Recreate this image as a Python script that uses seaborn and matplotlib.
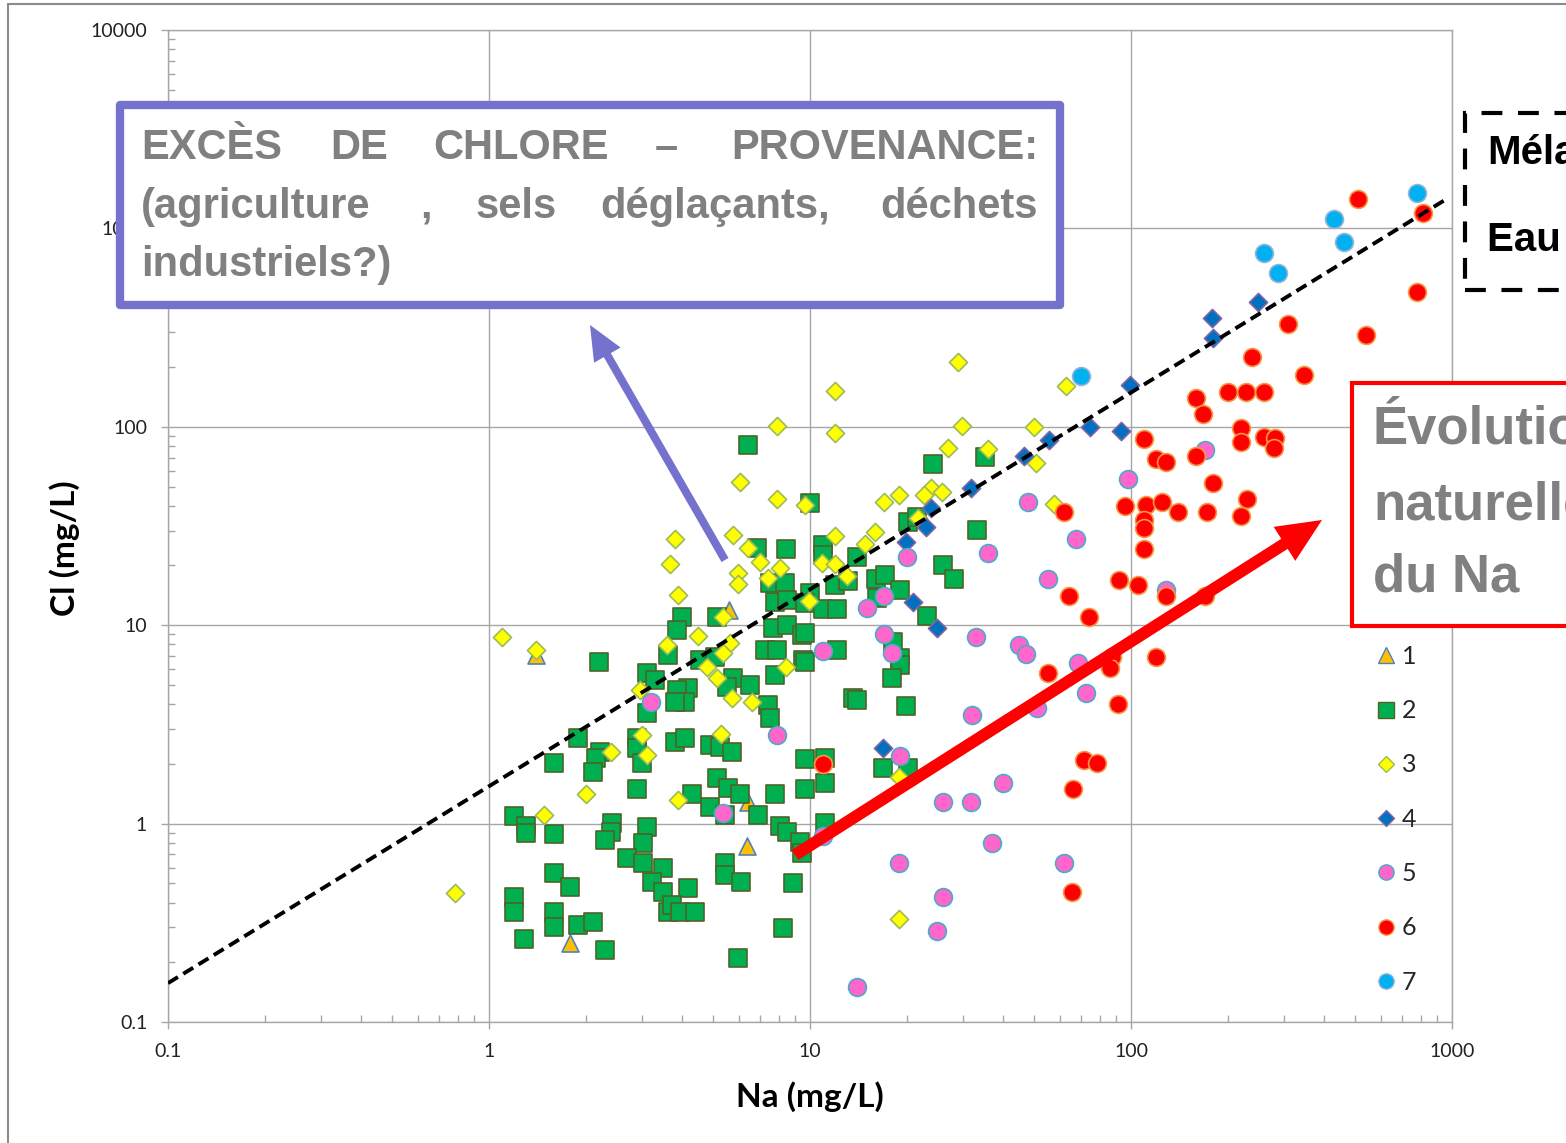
import numpy as np
import pandas as pd
import matplotlib
matplotlib.use("Agg")
import matplotlib.pyplot as plt
import seaborn as sns
from matplotlib.patches import Rectangle, FancyArrowPatch
from matplotlib.lines import Line2D
from matplotlib.ticker import LogLocator, FuncFormatter, NullFormatter

# ---------------- data (mg/L) ----------------
s1_na = [1.40, 1.79, 5.59, 6.41, 6.36]
s1_cl = [7.08, 0.250, 11.9, 1.28, 0.771]

s2_na = [6.41, 10.0, 8.42, 6.84, 11.0, 11.0, 14.0, 7.50, 8.36, 7.78, 8.48, 10.0, 9.65, 11.0, 12.1,
         12.0, 13.1, 3.99, 5.13, 3.85, 7.67, 8.48, 9.44, 3.61, 7.24, 7.89, 9.51, 12.1, 4.54, 5.06,
         3.11, 3.29, 4.17, 3.85, 5.75, 6.50, 7.78, 5.51, 7.40, 4.08, 3.80, 13.6, 7.50, 24.2, 35.1,
         20.2, 21.5, 33.1, 16.1, 17.1, 19.1, 16.2, 26.0, 28.1, 23.2, 9.65, 18.1, 19.1, 9.65, 19.1,
         18.0, 14.0, 19.9, 9.65, 11.1, 11.1, 9.65, 11.1, 16.9, 20.2, 8.85,
         2.20, 3.11, 1.89, 2.22, 2.16, 2.11, 1.59, 2.89, 2.89, 3.00, 2.89, 3.80, 4.08, 4.88, 5.24,
         5.71, 1.20, 1.30, 1.30, 1.59, 2.42, 2.40, 2.30, 3.11, 3.02, 2.69, 3.02, 3.48, 3.22, 3.48,
         4.17, 3.61, 3.72, 3.94, 4.38, 1.59, 1.79, 1.20, 1.20, 1.59, 1.59, 1.89, 2.11, 1.29, 2.30,
         5.13, 5.55, 4.29, 6.05, 7.78, 4.88, 5.43, 6.89, 8.07, 8.48, 9.31, 9.44, 5.43, 5.43, 6.10,
         8.24, 5.97]
s2_cl = [81.0, 41.3, 24.2, 24.5, 25.4, 22.6, 22.1, 16.3, 16.3, 13.1, 13.4, 14.5, 12.9, 12.1, 12.1,
         15.9, 16.7, 11.0, 11.0, 9.46, 9.68, 10.0, 8.93, 7.08, 7.50, 7.50, 6.68, 7.50, 6.68, 6.92,
         5.74, 5.29, 4.82, 4.71, 5.42, 5.00, 5.61, 4.88, 3.96, 4.10, 4.10, 4.30, 3.41, 65.0, 70.4,
         33.1, 35.1, 30.2, 17.1, 17.9, 15.0, 13.7, 20.1, 17.1, 11.1, 9.14, 8.23, 6.83, 6.53, 6.30,
         5.42, 4.20, 3.92, 2.12, 2.14, 1.60, 1.49, 1.01, 1.91, 1.91, 0.502,
         6.53, 3.60, 2.70, 2.30, 2.14, 1.82, 2.02, 2.70, 2.40, 2.02, 1.49, 2.58, 2.70, 2.49, 2.43,
         2.30, 1.09, 0.973, 0.897, 0.887, 1.01, 0.907, 0.827, 0.962, 0.798, 0.671, 0.633, 0.598, 0.508, 0.452,
         0.473, 0.358, 0.389, 0.358, 0.358, 0.563, 0.479, 0.427, 0.358, 0.358, 0.301, 0.308, 0.319, 0.262, 0.231,
         1.70, 1.51, 1.41, 1.41, 1.41, 1.21, 1.10, 1.10, 0.973, 0.907, 0.808, 0.711, 0.633, 0.551, 0.508,
         0.298, 0.210]

s3_na = [28.9, 12.0, 7.89, 12.0, 29.8, 49.9, 62.8, 26.9, 35.9, 50.6, 57.5, 23.8, 22.6, 25.8, 18.9,
         17.0, 15.9, 12.0, 14.8, 21.7, 10.9, 12.0, 13.0, 9.93, 9.65, 6.05, 7.89, 5.75, 3.80, 6.41,
         6.98, 8.07, 7.40, 5.97, 5.97, 3.66, 3.88, 5.36, 4.48, 3.59, 5.63, 5.36, 4.78, 5.13, 8.42,
         5.71, 6.60, 2.95, 1.10, 1.40, 3.00, 2.40, 3.11, 2.00, 1.48, 0.784, 3.88, 5.28, 18.9, 18.9]
s3_cl = [212, 151, 101, 93.1, 101, 99.8, 161, 78.2, 77.3, 65.7, 40.8, 49.2, 45.3, 46.9, 45.3,
         41.8, 29.5, 28.2, 25.7, 34.7, 20.6, 20.3, 17.7, 13.2, 40.4, 52.7, 43.3, 28.5, 27.2, 24.5,
         20.8, 19.4, 17.3, 18.3, 16.1, 20.3, 14.2, 11.0, 8.82, 7.94, 8.13, 7.24, 6.16, 5.42, 6.16,
         4.30, 4.10, 4.71, 8.72, 7.50, 2.80, 2.30, 2.22, 1.41, 1.10, 0.447, 1.32, 2.83, 1.72, 0.330]

s4_na = [249, 179, 180, 99.3, 74.5, 93.1, 55.5, 46.4, 31.7, 23.8, 23.0, 19.9, 20.9, 24.9, 16.9]
s4_cl = [426, 353, 280, 162, 99.8, 95.2, 85.8, 71.3, 49.2, 39.0, 31.3, 26.3, 13.1, 9.68, 2.40]

s5_na = [47.8, 67.4, 35.9, 20.0, 17.0, 15.1, 55.1, 17.0, 32.9, 44.8, 47.1, 11.0, 18.0, 68.4, 72.4,
         51.0, 32.0, 19.1, 39.9, 26.0, 31.7, 11.0, 36.9, 18.9, 61.8, 26.0, 24.9, 14.0, 3.20, 7.89,
         5.36, 170, 97.9, 129]
s5_cl = [41.8, 27.2, 23.1, 22.1, 14.0, 12.2, 17.1, 9.03, 8.72, 7.94, 7.16, 7.41, 7.24, 6.45, 4.55,
         3.83, 3.53, 2.19, 1.60, 1.28, 1.28, 0.866, 0.798, 0.633, 0.633, 0.427, 0.288, 0.150, 4.10, 2.80,
         1.13, 76.4, 54.6, 15.0]

s6_na = [509, 812, 778, 308, 540, 238, 346, 159, 200, 228, 260, 168, 220, 220, 260, 281, 279, 110,
         120, 129, 159, 180, 230, 220, 95.7, 111, 125, 140, 173, 110, 110, 110, 91.8, 105, 129, 170,
         74.0, 87.3, 86.0, 120, 91.1, 71.4, 78.3, 65.9, 65.5, 61.8, 64.1, 55.1, 11.0]
s6_cl = [1407, 1196, 478, 330, 290, 225, 182, 140, 150, 150, 150, 116, 98.6, 83.8, 88.8, 87.9, 78.2, 86.8,
         68.8, 66.5, 71.3, 52.1, 43.3, 35.5, 39.9, 40.4, 41.8, 37.2, 37.2, 33.9, 30.9, 24.2, 16.9, 15.9, 14.0, 14.0,
         11.0, 6.92, 6.09, 6.92, 4.01, 2.09, 2.02, 1.49, 0.452, 37.2, 14.0, 5.74, 2.0]

s7_na = [778, 429, 461, 260, 287, 69.8]
s7_cl = [1507, 1115, 854, 751, 596, 180]

line_na = [0.1, 950]
line_cl = [0.157, 1390]

series_labels = ["1", "2", "3", "4", "5", "6", "7"]
x_ticks = [0.1, 1, 10, 100, 1000]
y_ticks = [0.1, 1, 10, 100, 1000, 10000]

# ---------------- styles ----------------
styles = {
    "1": dict(marker="^", s=150, fc="#FFC000", ec="#4F81BD"),
    "2": dict(marker="s", s=150, fc="#00B050", ec="#4F6228"),
    "3": dict(marker="D", s=85, fc="#FFFF00", ec="#9BBB59"),
    "4": dict(marker="D", s=85, fc="#0070C0", ec="#8064A2"),
    "5": dict(marker="o", s=165, fc="#FF66CC", ec="#4BACC6"),
    "6": dict(marker="o", s=165, fc="#FF0000", ec="#F79646"),
    "7": dict(marker="o", s=165, fc="#00B0F0", ec="#95B3D7"),
}
all_na = [s1_na, s2_na, s3_na, s4_na, s5_na, s6_na, s7_na]
all_cl = [s1_cl, s2_cl, s3_cl, s4_cl, s5_cl, s6_cl, s7_cl]
df = pd.concat([pd.DataFrame({"Na": n, "Cl": c, "serie": lab})
                for n, c, lab in zip(all_na, all_cl, series_labels)], ignore_index=True)

sns.set_theme(style="white")
plt.rcParams["font.family"] = ["Lato", "DejaVu Sans"]

W, H = 1566, 1143
fig = plt.figure(figsize=(W / 100, H / 100), dpi=100)
ax = fig.add_axes([168 / W, 1 - 1022 / H, (1452 - 168) / W, (1022 - 30) / H])

for i, lab in enumerate(series_labels):
    st = styles[lab]
    sns.scatterplot(data=df[df["serie"] == lab], x="Na", y="Cl", marker=st["marker"], s=st["s"],
                    color=st["fc"], edgecolor=st["ec"], linewidth=1.2, ax=ax, legend=False,
                    zorder=3 + i)

sns.lineplot(x=line_na, y=line_cl, ax=ax, color="black", lw=2.8, linestyle=(0, (3, 1.6)),
             zorder=20, legend=False, estimator=None, sort=False)

ax.set_xscale("log")
ax.set_yscale("log")
ax.set_xlim(0.1, 1000)
ax.set_ylim(0.1, 10000)
ax.xaxis.set_major_locator(LogLocator(base=10, numticks=10))
ax.yaxis.set_major_locator(LogLocator(base=10, numticks=10))
ax.xaxis.set_minor_locator(LogLocator(base=10, subs=np.arange(2, 10), numticks=20))
ax.yaxis.set_minor_locator(LogLocator(base=10, subs=np.arange(2, 10), numticks=20))
fmt = FuncFormatter(lambda v, p: f"{v:g}")
ax.xaxis.set_major_formatter(fmt)
ax.yaxis.set_major_formatter(fmt)
ax.xaxis.set_minor_formatter(NullFormatter())
ax.yaxis.set_minor_formatter(NullFormatter())

grid_c = "#A6A6A6"
ax.grid(True, which="major", color=grid_c, lw=1.0)
ax.grid(False, which="minor")
for sp in ax.spines.values():
    sp.set_color(grid_c)
    sp.set_linewidth(1.0)
ax.tick_params(which="major", direction="out", length=5, width=1, color=grid_c,
               labelsize=14, pad=10, labelcolor="#222222", bottom=True, left=True)
ax.tick_params(which="minor", direction="in", length=5, width=1, color=grid_c,
               bottom=True, left=True)

ax.set_xlabel("Na (mg/L)", fontsize=24, fontweight="bold", color="black")
ax.set_ylabel("Cl (mg/L)", fontsize=24, fontweight="bold", color="black")
ax.xaxis.set_label_coords(0.5, (1022 - 1097) / 992)
ax.xaxis.label.set_verticalalignment("center")
ax.yaxis.set_label_coords((65 - 168) / 1284, (1022 - 548) / 992)
ax.yaxis.label.set_verticalalignment("center")

# legend
handles = [Line2D([], [], ls="none", marker=styles[l]["marker"],
                  ms=(8 if styles[l]["marker"] == "D" else 11),
                  mfc=styles[l]["fc"], mec=styles[l]["ec"], mew=1) for l in series_labels]
ax.legend(handles, series_labels, loc="upper left", bbox_to_anchor=(1373 / W, 1 - 645 / H),
          bbox_transform=fig.transFigure, frameon=False, fontsize=18, handletextpad=0.15,
          labelspacing=1.25, handlelength=1.0, borderpad=0, borderaxespad=0)


def fx(x):
    return x / W


def fy(y):
    return 1 - y / H


# figure frame (cropped slide border)
fig.add_artist(Rectangle((fx(8), -0.1), 1.2, fy(4) + 0.1, transform=fig.transFigure,
                         fill=False, ec="#8C8C8C", lw=1.5, zorder=1))

# purple box
purple = "#7472CC"
fig.add_artist(Rectangle((fx(120), fy(305)), fx(1060) - fx(120), fy(105) - fy(305),
                         transform=fig.transFigure, fc="white", ec=purple, lw=6,
                         joinstyle="round", zorder=30))
gray_txt = "#808080"
box_font = dict(fontsize=30, fontweight="bold", color=gray_txt, family=["Liberation Sans", "DejaVu Sans"],
                va="center", zorder=31)
line1 = [("EXCÈS", 141), ("DE", 330), ("CHLORE", 433), ("–", 655)]
for w, x in line1:
    fig.text(fx(x), fy(148), w, ha="left", **box_font)
fig.text(fx(1038), fy(148), "PROVENANCE:", ha="right", **box_font)
line2 = [("(agriculture", 141), (",", 420), ("sels", 475), ("déglaçants,", 600)]
for w, x in line2:
    fig.text(fx(x), fy(207), w, ha="left", **box_font)
fig.text(fx(1038), fy(207), "déchets", ha="right", **box_font)
fig.text(fx(141), fy(265), "industriels?)", ha="left", **box_font)

# purple arrow
fig.add_artist(FancyArrowPatch((fx(725), fy(560)), (fx(590), fy(325)), transform=fig.transFigure,
                               arrowstyle="simple,head_length=2.5,head_width=2.2,tail_width=0.58",
                               mutation_scale=10, color=purple, lw=0, shrinkA=0, shrinkB=0, zorder=30))

# dashed box (extends past the slide crop, as in the source)
fig.add_artist(Rectangle((fx(1465), fy(290)), 0.2, fy(113) - fy(290), transform=fig.transFigure,
                         fc="white", ec="black", lw=3, linestyle=(0, (5, 3.75)), zorder=30))
dash_font = dict(fontsize=29, fontweight="bold", color="black", family=["Liberation Sans", "DejaVu Sans"],
                 va="center", ha="left", zorder=31)
fig.text(fx(1487), fy(153), "Mélange", **dash_font)
fig.text(fx(1487), fy(240), "Eau de mer", **dash_font)

# red box
fig.add_artist(Rectangle((fx(1352), fy(626)), 0.2, fy(383) - fy(626), transform=fig.transFigure,
                         fc="white", ec="#FF0000", lw=3, zorder=30))
red_font = dict(fontsize=38, fontweight="bold", color=gray_txt, family=["Liberation Sans", "DejaVu Sans"],
                va="center", ha="left", zorder=31)
fig.text(fx(1373), fy(430), "Évolution", **red_font)
fig.text(fx(1373), fy(505), "naturelle", **red_font)
fig.text(fx(1373), fy(578), "du Na", **red_font)

# red arrow
fig.add_artist(FancyArrowPatch((fx(795), fy(855)), (fx(1322), fy(520)), transform=fig.transFigure,
                               arrowstyle="simple,head_length=3.2,head_width=2.9,tail_width=0.86",
                               mutation_scale=10, color="#FF0000", lw=0, shrinkA=0, shrinkB=0, zorder=30))

fig.savefig("out.png", dpi=100)
